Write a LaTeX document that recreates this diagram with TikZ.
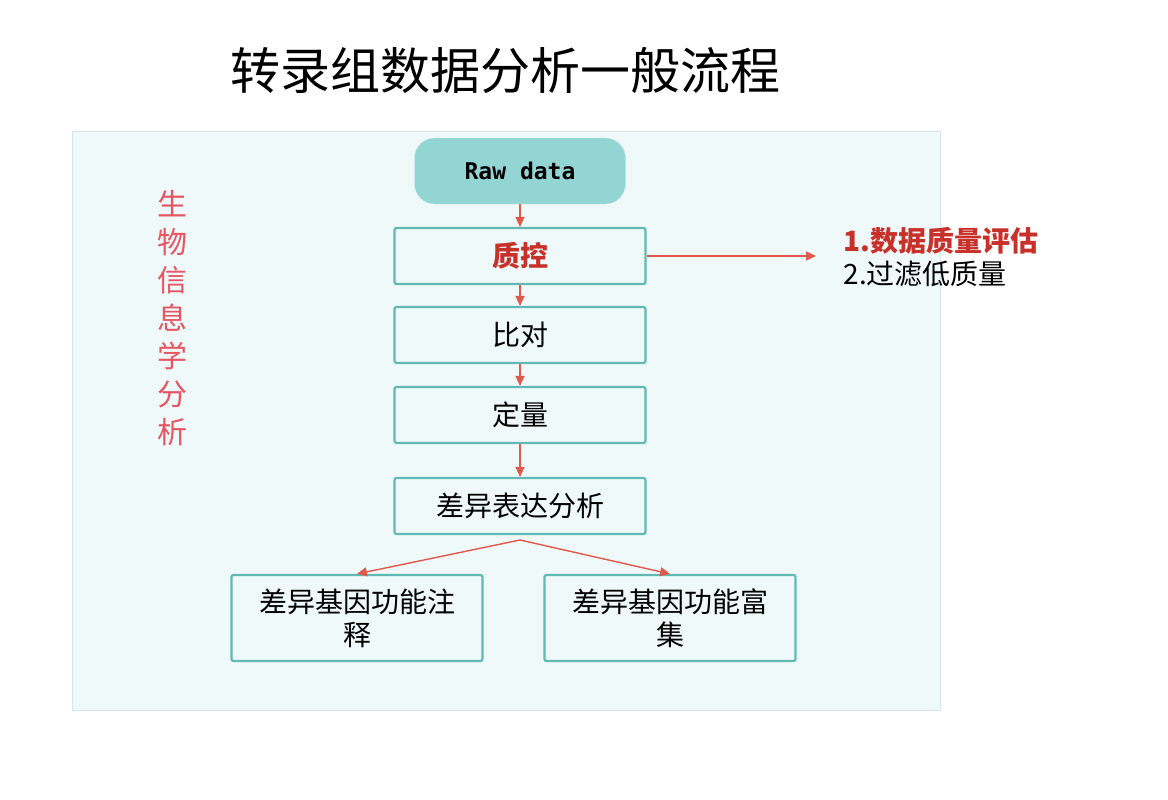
\documentclass[tikz,border=0pt]{standalone}
\usepackage{fontspec}
\setmainfont{Noto Sans CJK SC}
\setmonofont{DejaVu Sans Mono}
\usetikzlibrary{arrows.meta}
\definecolor{panelfill}{HTML}{F0F9FA}
\definecolor{panelline}{HTML}{D5E5EA}
\definecolor{boxline}{HTML}{62B8B3}
\definecolor{rawfill}{HTML}{93D5D3}
\definecolor{arrowred}{HTML}{E0594A}
\definecolor{textred}{HTML}{C8312A}
\definecolor{sidered}{HTML}{E65562}

\begin{document}
\begin{tikzpicture}[
		x=1pt, y=-1pt,
		>={Triangle[length=10pt,width=9pt]},
		stepbox/.style={draw=boxline,line width=2.2pt,rounded corners=2pt,minimum width=251pt,
			minimum height=56pt,font=\fontsize{28}{33}\selectfont},
		bigbox/.style={stepbox,minimum height=86pt,align=center,font=\fontsize{28}{33}\selectfont},
		flow/.style={->,draw=arrowred,line width=1.4pt}
	]

		% Canvas and panel
		\useasboundingbox[fill=white] (0,0) rectangle (1168,800);
		\draw[fill=panelfill,draw=panelline,line width=1pt] (72,131) rectangle (940,710);

		% Title
		\node[font=\fontsize{50}{56}\selectfont] (title) at (505,70) {转录组数据分析一般流程};

		% Steps
		\node[draw=panelline,fill=rawfill,rounded corners=20pt,minimum width=211pt,minimum height=66pt,
			font=\ttfamily\bfseries\fontsize{23}{27}\selectfont] (raw) at (520,171) {Raw data};
		\node[stepbox,text=textred,font=\bfseries\fontsize{28}{33}\selectfont] (qc) at (520,256) {质控};
		\node[stepbox] (align) at (520,335) {比对};
		\node[stepbox] (quant) at (520,415) {定量};
		\node[stepbox] (diff) at (520,506) {差异表达分析};
		\node[bigbox] (annot) at (357,618) {差异基因功能注\\释};
		\node[bigbox] (enrich) at (670,618) {差异基因功能富\\集};

		% Side texts
		\node[text=sidered,align=center,font=\fontsize{30}{38}\selectfont] (side) at (172,318)
			{生\\物\\信\\息\\学\\分\\析};
		\node[anchor=west,align=left,font=\fontsize{28}{33}\selectfont] (qcnote) at (840,257)
			{\textcolor{textred}{\bfseries 1.数据质量评估}\\2.过滤低质量};
		\coordinate (qcend) at (816,256);
		\coordinate (split) at (520,540);

		% Arrows
		\draw[flow] (raw) -- (qc);
		\draw[flow] (qc) -- (align);
		\draw[flow] (align) -- (quant);
		\draw[flow] (quant) -- (diff);
		\draw[flow] (qc.east) -- (qcend);
		\draw[flow] (split) -- (annot.north);
		\draw[flow] (split) -- (enrich.north);
	\end{tikzpicture}
\end{document}
